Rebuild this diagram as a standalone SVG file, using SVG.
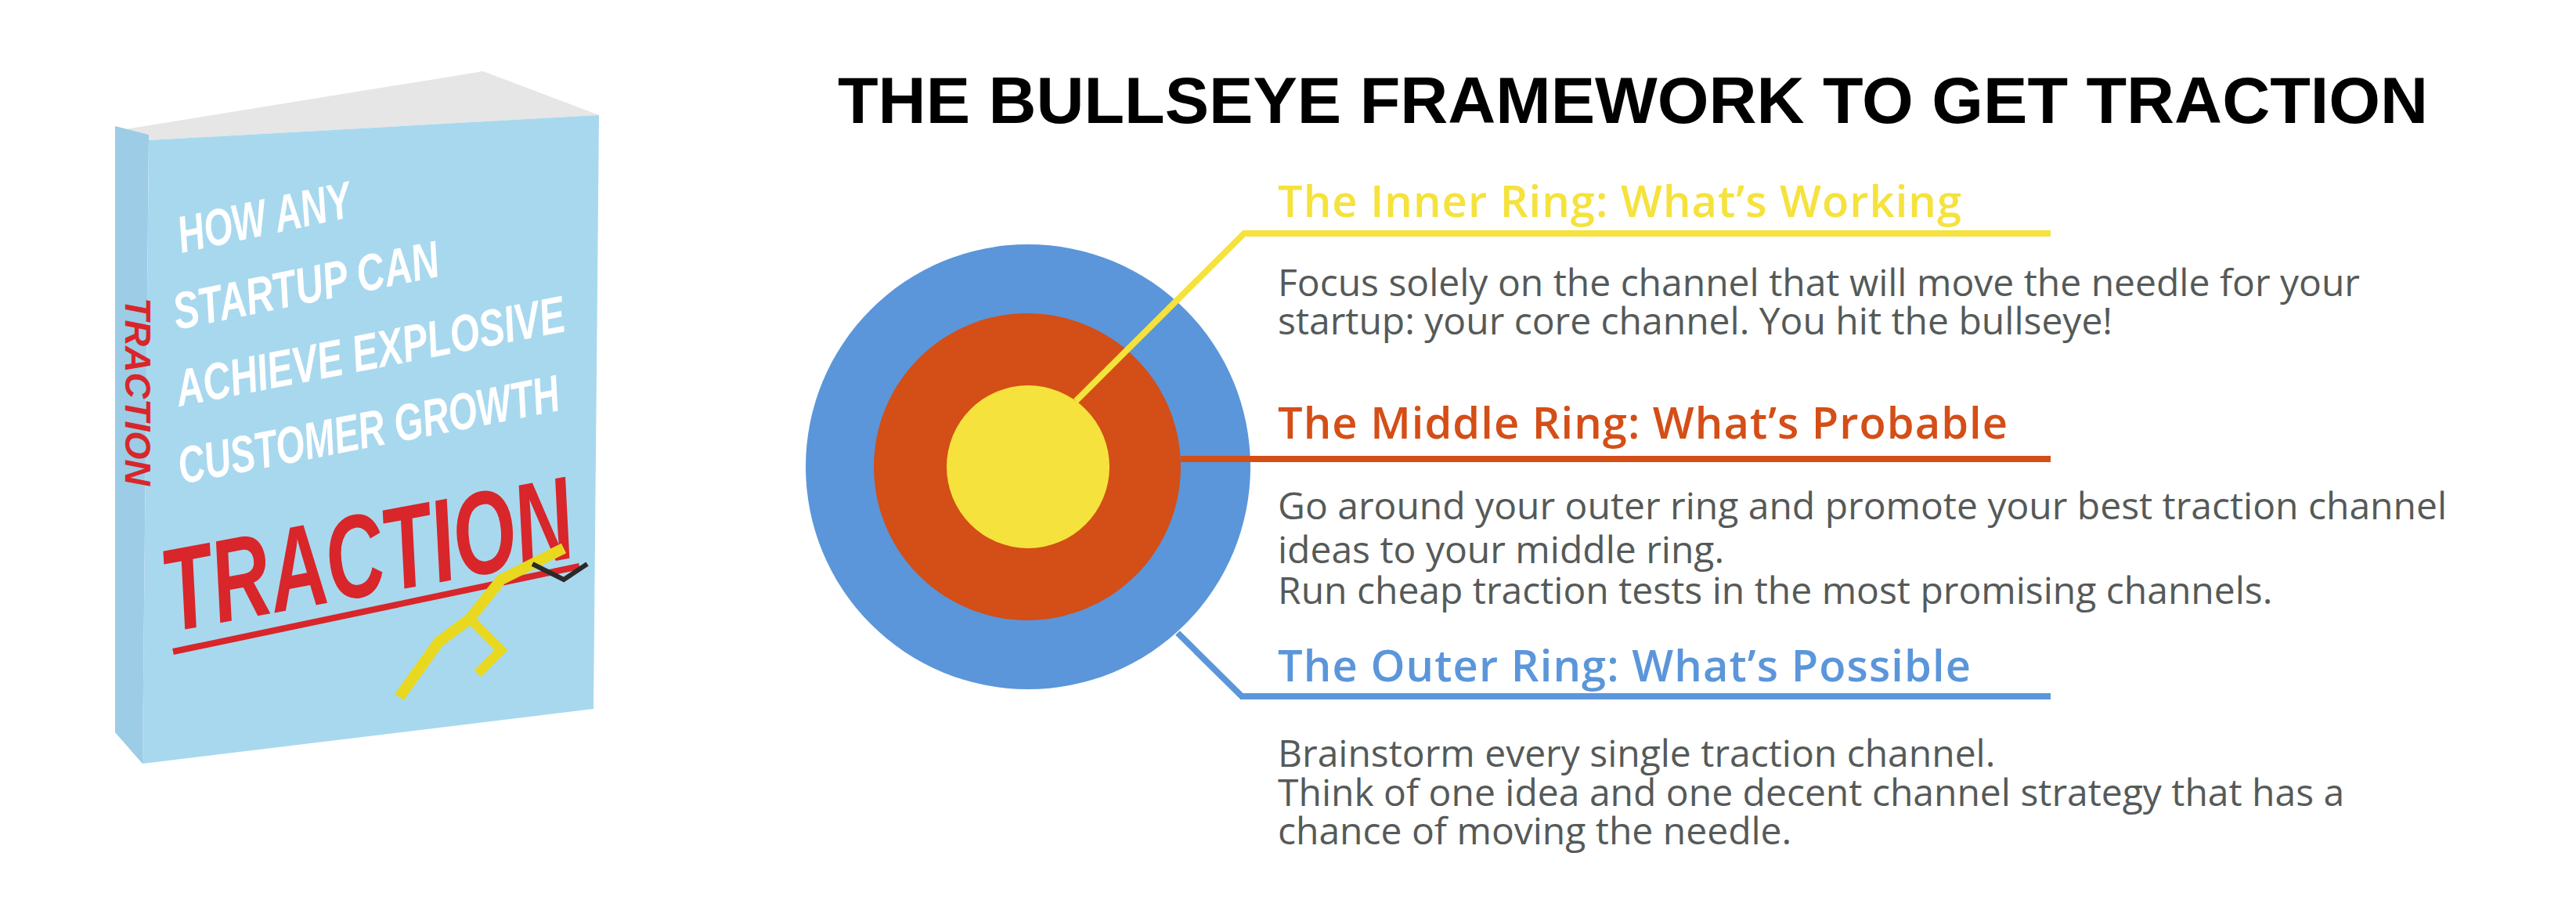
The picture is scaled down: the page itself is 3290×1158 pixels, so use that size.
<svg xmlns="http://www.w3.org/2000/svg" width="3290" height="1158" viewBox="0 0 3290 1158">
<style>
.h{font-family:"Open Sans","Liberation Sans",sans-serif;font-weight:600;font-size:56px}
.b{font-family:"Open Sans","Liberation Sans",sans-serif;font-size:48px;fill:#555a58}
.c{font-family:"Liberation Sans",sans-serif;font-weight:bold;font-style:italic;fill:#fff}
.ln{fill:none;stroke-width:8}
</style>
<rect width="3290" height="1158" fill="#fff"/>
<g id="book">
<polygon points="200,175 617,91 622,150" fill="#d8e8f0"/>
<polygon points="160,165 617,91 765,147 190,179" fill="#e6e6e6"/>
<polygon points="147,161 190,172 182,975 147,935" fill="#9ccce6"/>
<polygon points="190,179 765,147 758,905 182,975" fill="#a8d8ee"/>
<text class="c" font-size="66" textLength="225" lengthAdjust="spacingAndGlyphs" transform="translate(232,323) rotate(-12)">HOW ANY</text>
<text class="c" font-size="66" textLength="345" lengthAdjust="spacingAndGlyphs" transform="translate(226,421) rotate(-11.5)">STARTUP CAN</text>
<text class="c" font-size="66" textLength="505" lengthAdjust="spacingAndGlyphs" transform="translate(229,519) rotate(-11)">ACHIEVE EXPLOSIVE</text>
<text class="c" font-size="66" textLength="495" lengthAdjust="spacingAndGlyphs" transform="translate(232,618) rotate(-11)">CUSTOMER GROWTH</text>
<text class="c" font-size="150" style="fill:#d8262a" textLength="530" lengthAdjust="spacingAndGlyphs" transform="translate(218,807) rotate(-10.5)">TRACTION</text>
<line x1="221" y1="832" x2="740" y2="723" stroke="#d8262a" stroke-width="8"/>
<text class="c" font-size="46" style="fill:#d8262a" textLength="240" lengthAdjust="spacingAndGlyphs" transform="translate(160,380) rotate(90)">TRACTION</text>
<polyline points="510,890 560,820 600,790 640,740 680,720 720,700" fill="none" stroke="#e8d820" stroke-width="14"/>
<polyline points="600,790 640,830 610,860" fill="none" stroke="#e8d820" stroke-width="12"/>
<polyline points="680,720 720,740 750,720" fill="none" stroke="#2a2a2a" stroke-width="6"/>
</g>
<g id="title"><text x="1070" y="157" font-family="'Liberation Sans',sans-serif" font-weight="bold" font-size="84" textLength="2031" lengthAdjust="spacingAndGlyphs">THE BULLSEYE FRAMEWORK TO GET TRACTION</text></g>
<g id="target">
<circle cx="1313" cy="596" r="284" fill="#5b96da"/>
<circle cx="1312" cy="596" r="196" fill="#d44e17"/>
<circle cx="1313" cy="596" r="104" fill="#f5e23c"/>
</g>
<g id="connectors">
<polyline class="ln" stroke="#f5e23c" points="1374,512 1589,298 2619,298"/>
<polyline class="ln" stroke="#d44e17" points="1508,586 2619,586"/>
<polyline class="ln" stroke="#5b96da" points="1504,808 1586,889 2619,889"/>
</g>
<g id="inner">
<text class="h" x="1632" y="277" fill="#f5e23c" textLength="873">The Inner Ring: What’s Working</text>
<text class="b" x="1632" y="378">Focus solely on the channel that will move the needle for your</text>
<text class="b" x="1632" y="427">startup: your core channel. You hit the bullseye!</text>
</g>
<g id="middle">
<text class="h" x="1632" y="560" fill="#d44e17" textLength="932">The Middle Ring: What’s Probable</text>
<text class="b" x="1632" y="663">Go around your outer ring and promote your best traction channel</text>
<text class="b" x="1632" y="719">ideas to your middle ring.</text>
<text class="b" x="1632" y="771">Run cheap traction tests in the most promising channels.</text>
</g>
<g id="outer">
<text class="h" x="1632" y="870" fill="#5b96da" textLength="885">The Outer Ring: What’s Possible</text>
<text class="b" x="1632" y="979">Brainstorm every single traction channel.</text>
<text class="b" x="1632" y="1029">Think of one idea and one decent channel strategy that has a</text>
<text class="b" x="1632" y="1078">chance of moving the needle.</text>
</g>
</svg>
